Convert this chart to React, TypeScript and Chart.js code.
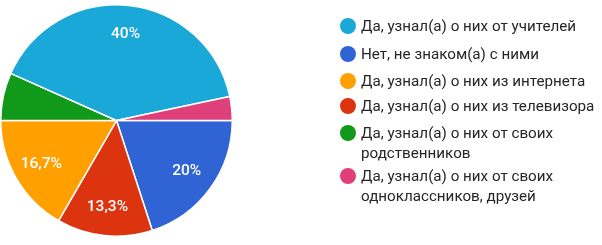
import React, { useEffect, useRef } from "react";
import { Chart, registerables } from "chart.js";

Chart.register(...registerables);

// Slices in drawing order (clockwise from 3 o'clock)
const categories = [
  "Нет, не знаком(а) с ними",
  "Да, узнал(а) о них из телевизора",
  "Да, узнал(а) о них из интернета",
  "Да, узнал(а) о них от своих родственников",
  "Да, узнал(а) о них от учителей",
  "Да, узнал(а) о них от своих одноклассников, друзей",
];
const counts = [6, 4, 5, 2, 12, 1];
const colors = ["#3064d4", "#dd3410", "#ffa000", "#11991a", "#1aa8d8", "#e0407a"];

// Legend order and the line breaks used in the legend
const legendOrder = [4, 0, 2, 1, 3, 5];
const legendLines: string[][] = [
  ["Нет, не знаком(а) с ними"],
  ["Да, узнал(а) о них из телевизора"],
  ["Да, узнал(а) о них из интернета"],
  ["Да, узнал(а) о них от своих", "родственников"],
  ["Да, узнал(а) о них от учителей"],
  ["Да, узнал(а) о них от своих", "одноклассников, друзей"],
];

const FONT = "Roboto, Arial, sans-serif";

const pctLabels = {
  id: "pctLabels",
  afterDatasetsDraw(chart: any) {
    const ctx = chart.ctx;
    const meta = chart.getDatasetMeta(0);
    const data = chart.data.datasets[0].data as number[];
    const total = data.reduce((a, b) => a + b, 0);
    ctx.save();
    ctx.fillStyle = "#ffffff";
    ctx.font = `500 15.5px ${FONT}`;
    ctx.textAlign = "center";
    ctx.textBaseline = "middle";
    meta.data.forEach((arc: any, i: number) => {
      const pct = (data[i] / total) * 100;
      if (pct < 10) return;
      const { x, y, startAngle, endAngle, outerRadius } = arc.getProps(
        ["x", "y", "startAngle", "endAngle", "outerRadius"],
        true
      );
      const mid = (startAngle + endAngle) / 2;
      const r = outerRadius * 0.75;
      const txt = (Math.round(pct * 10) / 10).toString().replace(".", ",") + "%";
      ctx.fillText(txt, x + Math.cos(mid) * r, y + Math.sin(mid) * r);
    });
    ctx.restore();
  },
};

export default function App() {
  const ref = useRef<HTMLCanvasElement>(null);
  useEffect(() => {
    if (!ref.current) return;
    const chart = new Chart(ref.current, {
      type: "pie",
      data: {
        labels: categories,
        datasets: [
          {
            data: counts,
            backgroundColor: colors,
            borderColor: "#ffffff",
            borderWidth: 1.5,
          },
        ],
      },
      options: {
        responsive: false,
        animation: false,
        rotation: 90,
        layout: { padding: { left: 0, right: 369, top: 4, bottom: 8 } },
        plugins: {
          legend: { display: false },
          tooltip: { enabled: false },
        },
      },
      plugins: [pctLabels],
    });
    return () => chart.destroy();
  }, []);

  const itemTops = [26, 54, 81, 106, 133, 176];

  return (
    <div
      style={{
        position: "fixed",
        left: 0,
        top: 0,
        width: 602,
        height: 245,
        background: "#ffffff",
        overflow: "hidden",
      }}
    >
      <canvas ref={ref} width={602} height={245} style={{ position: "absolute", left: 0, top: 0 }} />
      {legendOrder.map((idx, k) => (
        <div
          key={idx}
          style={{
            position: "absolute",
            left: 340,
            top: itemTops[k] - 10,
            display: "flex",
            alignItems: "flex-start",
            fontFamily: FONT,
            fontSize: 15.2,
            lineHeight: "20px",
            color: "#262626",
            whiteSpace: "nowrap",
          }}
        >
          <span
            style={{
              display: "inline-block",
              width: 16,
              height: 16,
              borderRadius: "50%",
              background: colors[idx],
              marginTop: 2,
              marginRight: 5,
              flex: "none",
            }}
          />
          <span>
            {legendLines[idx].map((l, j) => (
              <div key={j}>{l}</div>
            ))}
          </span>
        </div>
      ))}
    </div>
  );
}
